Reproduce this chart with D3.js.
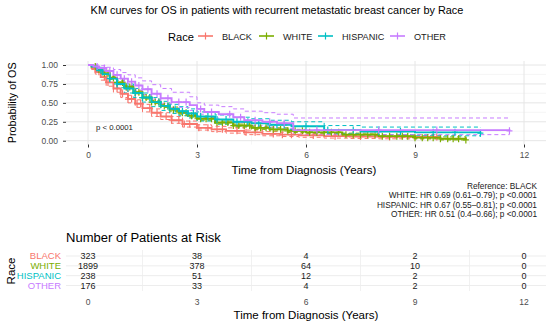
<!DOCTYPE html>
<html>
<meta charset="utf-8"/>
<head>
  <title>KM curves by Race</title>
  <script src="https://d3js.org/d3.v7.min.js" charset="utf-8"></script>
  <style>
    body { margin: 0; background: #fff; }
    text { font-family: "Liberation Sans", Arial, sans-serif; }
  </style>
</head>
<body>
<script>
  // groups and colours (ggplot hue palette)
  var groups = ['BLACK', 'WHITE', 'HISPANIC', 'OTHER'];
  var colors = ['#F8766D', '#7CAE00', '#00BFC4', '#C77CFF'];

  // survival estimates (years, probability)
  var blackTime  = [0, 0.1, 0.2, 0.35, 0.5, 0.7, 0.9, 1.1, 1.3, 1.5, 1.75, 2.0, 2.3, 2.6, 3.0, 3.4, 3.8, 4.3, 4.8, 5.3, 5.8, 6.5, 7.2, 8.0, 9.6];
  var blackSurv  = [1.0, 0.96, 0.91, 0.84, 0.77, 0.69, 0.62, 0.55, 0.49, 0.43, 0.37, 0.32, 0.27, 0.22, 0.17, 0.15, 0.13, 0.11, 0.09, 0.08, 0.07, 0.06, 0.055, 0.05, 0.05];
  var blackLow   = [1.0, 0.94, 0.88, 0.80, 0.72, 0.64, 0.57, 0.50, 0.44, 0.38, 0.32, 0.28, 0.23, 0.18, 0.14, 0.12, 0.10, 0.08, 0.065, 0.055, 0.045, 0.035, 0.03, 0.025, 0.025];
  var blackHigh  = [1.0, 0.98, 0.94, 0.88, 0.82, 0.74, 0.67, 0.60, 0.54, 0.48, 0.42, 0.37, 0.32, 0.26, 0.21, 0.19, 0.17, 0.14, 0.12, 0.11, 0.10, 0.09, 0.085, 0.08, 0.08];
  var blackCens  = [0.3, 0.45, 0.55, 0.8, 0.95, 1.1, 1.2, 1.35, 1.45, 1.7, 1.9, 2.15, 2.3, 2.5, 2.65, 2.8, 3.05, 3.3, 3.55, 3.7, 4.1, 4.35, 4.6, 5.1, 5.35, 5.6, 6.2, 6.8, 7.5, 8.3, 9.6];

  var whiteTime  = [0, 0.1, 0.25, 0.4, 0.6, 0.8, 1.0, 1.25, 1.5, 1.75, 2.0, 2.25, 2.5, 2.75, 3.0, 3.5, 4.0, 4.5, 5.0, 5.5, 6.0, 7.0, 8.0, 9.0, 9.7, 10.4];
  var whiteSurv  = [1.0, 0.98, 0.94, 0.89, 0.83, 0.77, 0.71, 0.64, 0.57, 0.51, 0.46, 0.41, 0.37, 0.33, 0.29, 0.24, 0.20, 0.17, 0.15, 0.13, 0.11, 0.08, 0.06, 0.04, 0.025, 0.01];
  var whiteLow   = [1.0, 0.97, 0.93, 0.87, 0.81, 0.75, 0.69, 0.62, 0.55, 0.49, 0.44, 0.39, 0.35, 0.31, 0.27, 0.22, 0.18, 0.15, 0.13, 0.11, 0.09, 0.065, 0.045, 0.025, 0.01, 0.002];
  var whiteHigh  = [1.0, 0.99, 0.95, 0.91, 0.85, 0.79, 0.73, 0.66, 0.59, 0.53, 0.48, 0.43, 0.39, 0.35, 0.31, 0.26, 0.22, 0.19, 0.17, 0.15, 0.13, 0.10, 0.08, 0.06, 0.05, 0.04];
  var whiteCens  = [0.2, 0.3, 0.45, 0.55, 0.7, 0.8, 0.95, 1.05, 1.15, 1.3, 1.4, 1.5, 1.6, 1.75, 1.85, 1.95, 2.1, 2.2, 2.35, 2.45, 2.6, 2.7, 2.85, 2.95, 3.1, 3.25, 3.4, 3.55, 3.7, 3.85, 4.0, 4.15, 4.3, 4.45, 4.6, 4.75, 4.9, 5.1, 5.3, 5.5, 5.7, 5.9, 6.1, 6.3, 6.5, 6.7, 6.9, 7.1, 7.3, 7.5, 7.7, 7.9, 8.1, 8.3, 8.5, 8.65, 8.8, 9.0, 9.2, 9.35, 9.5, 9.7, 9.9, 10.05, 10.2, 10.4];

  var hispTime   = [0, 0.1, 0.25, 0.4, 0.6, 0.8, 1.0, 1.25, 1.5, 1.75, 2.0, 2.25, 2.5, 2.75, 3.0, 3.5, 4.0, 4.5, 5.0, 5.6, 6.5, 7.5, 9.0, 10.8];
  var hispSurv   = [1.0, 0.98, 0.93, 0.88, 0.82, 0.75, 0.69, 0.63, 0.57, 0.51, 0.46, 0.42, 0.39, 0.36, 0.32, 0.28, 0.25, 0.23, 0.21, 0.19, 0.14, 0.12, 0.11, 0.10];
  var hispLow    = [1.0, 0.96, 0.90, 0.84, 0.77, 0.70, 0.63, 0.57, 0.51, 0.45, 0.40, 0.36, 0.33, 0.30, 0.26, 0.22, 0.19, 0.17, 0.15, 0.13, 0.09, 0.075, 0.065, 0.055];
  var hispHigh   = [1.0, 1.0, 0.96, 0.92, 0.87, 0.80, 0.75, 0.69, 0.63, 0.57, 0.52, 0.48, 0.45, 0.42, 0.38, 0.34, 0.31, 0.29, 0.27, 0.25, 0.20, 0.18, 0.18, 0.17];
  var hispCens   = [0.35, 0.6, 0.8, 1.1, 1.3, 1.5, 1.7, 1.95, 2.2, 2.4, 2.6, 2.75, 2.9, 3.1, 3.3, 3.55, 3.8, 4.1, 4.4, 4.7, 5.0, 5.2, 5.4, 6.0, 6.6, 7.3, 8.0, 8.6, 9.5, 10.1, 10.8];

  var otherTime  = [0, 0.15, 0.3, 0.5, 0.7, 0.9, 1.1, 1.3, 1.5, 1.75, 2.0, 2.3, 2.8, 3.0, 3.2, 3.6, 4.0, 4.3, 4.8, 5.2, 5.65, 11.6];
  var otherSurv  = [1.0, 0.98, 0.96, 0.92, 0.87, 0.82, 0.78, 0.73, 0.68, 0.62, 0.56, 0.51, 0.47, 0.42, 0.38, 0.35, 0.31, 0.27, 0.25, 0.23, 0.14, 0.13];
  var otherLow   = [1.0, 0.96, 0.93, 0.88, 0.82, 0.77, 0.72, 0.67, 0.61, 0.55, 0.49, 0.44, 0.40, 0.35, 0.30, 0.28, 0.24, 0.20, 0.18, 0.16, 0.08, 0.075];
  var otherHigh  = [1.0, 1.0, 0.99, 0.97, 0.94, 0.90, 0.87, 0.83, 0.79, 0.74, 0.69, 0.64, 0.58, 0.50, 0.47, 0.45, 0.42, 0.39, 0.37, 0.35, 0.30, 0.30];
  var otherCens  = [0.25, 0.45, 0.6, 0.8, 1.0, 1.2, 1.4, 1.65, 1.9, 2.2, 2.5, 2.7, 3.1, 3.4, 3.9, 4.2, 4.6, 5.0, 5.4, 6.3, 8.0, 9.6, 11.6];

  // number at risk
  var riskTimes = [0, 3, 6, 9, 12];
  var riskBlack = [323, 38, 4, 2, 0];
  var riskWhite = [1899, 378, 64, 10, 0];
  var riskHisp  = [238, 51, 12, 2, 0];
  var riskOther = [176, 33, 4, 2, 0];

  var yTicks = [0, 0.25, 0.5, 0.75, 1];
  var xTicks = [0, 3, 6, 9, 12];
  var hrLines = ['Reference: BLACK',
                 'WHITE: HR 0.69 (0.61\u20130.79); p <0.0001',
                 'HISPANIC: HR 0.67 (0.55\u20130.81); p <0.0001',
                 'OTHER: HR 0.51 (0.4\u20130.66); p <0.0001'];

  var series = [
    {time: blackTime, surv: blackSurv, low: blackLow, high: blackHigh, cens: blackCens},
    {time: whiteTime, surv: whiteSurv, low: whiteLow, high: whiteHigh, cens: whiteCens},
    {time: hispTime,  surv: hispSurv,  low: hispLow,  high: hispHigh,  cens: hispCens},
    {time: otherTime, surv: otherSurv, low: otherLow, high: otherHigh, cens: otherCens}
  ];
  var riskRows = [riskBlack, riskWhite, riskHisp, riskOther];

  var W = 550, H = 322;
  var panel = {left: 66, right: 546, top: 61, bottom: 144.5};

  var svg = d3.select('body').append('svg')
    .attr('width', W).attr('height', H);
  svg.append('rect').attr('width', W).attr('height', H).attr('fill', '#fff');

  // scale a text's font so it spans about the width seen in the picture
  function fit(t, width){
    var fs = +t.attr('font-size');
    var len = t.node().getComputedTextLength();
    if (len > 0) t.attr('font-size', (fs * width / len).toFixed(2));
    return t;
  }

  var x = d3.scaleLinear().domain([0, 12]).range([88, 524]);
  var y = d3.scaleLinear().domain([0, 1]).range([140.7, 65]);

  // title
  fit(svg.append('text').attr('x', 277).attr('y', 14)
    .attr('text-anchor', 'middle').attr('font-size', 11).attr('fill', '#000')
    .text('KM curves for OS in patients with recurrent metastatic breast cancer by Race'), 373);

  // legend
  var lg = svg.append('g');
  fit(lg.append('text').attr('x', 168).attr('y', 40.5).attr('font-size', 11).text('Race'), 26);
  var keyX = [198, 259, 318, 390];
  var legFs = 9;
  groups.forEach(function(g, i){
    var k = lg.append('g').attr('transform', 'translate(' + keyX[i] + ',36)');
    k.append('line').attr('x1', 0).attr('x2', 15).attr('stroke', colors[i]).attr('stroke-width', 1.6);
    k.append('line').attr('x1', 7.5).attr('x2', 7.5).attr('y1', -3.5).attr('y2', 3.5)
      .attr('stroke', colors[i]).attr('stroke-width', 1.2);
    var t = k.append('text').attr('x', 24).attr('y', 3.5).attr('font-size', legFs).attr('fill', '#1a1a1a').text(g);
    if (i == 0) { fit(t, 30); legFs = +t.attr('font-size'); }
  });

  // grid
  var grid = svg.append('g');
  [0.125, 0.375, 0.625, 0.875].forEach(function(v){
    grid.append('line').attr('x1', panel.left).attr('x2', panel.right)
      .attr('y1', y(v)).attr('y2', y(v)).attr('stroke', '#f0f0f0').attr('stroke-width', 0.6);
  });
  [1.5, 4.5, 7.5, 10.5].forEach(function(v){
    grid.append('line').attr('y1', panel.top).attr('y2', panel.bottom)
      .attr('x1', x(v)).attr('x2', x(v)).attr('stroke', '#f0f0f0').attr('stroke-width', 0.6);
  });
  yTicks.forEach(function(v){
    grid.append('line').attr('x1', panel.left).attr('x2', panel.right)
      .attr('y1', y(v)).attr('y2', y(v)).attr('stroke', '#e6e6e6').attr('stroke-width', 1);
  });
  xTicks.forEach(function(v){
    grid.append('line').attr('y1', panel.top).attr('y2', panel.bottom)
      .attr('x1', x(v)).attr('x2', x(v)).attr('stroke', '#e6e6e6').attr('stroke-width', 1);
  });

  // axes
  var yAxis = svg.append('g').attr('transform', 'translate(' + panel.left + ',0)')
    .call(d3.axisLeft(y).tickValues(yTicks).tickFormat(d3.format('.2f')).tickSize(3).tickPadding(5));
  var xAxis = svg.append('g').attr('transform', 'translate(0,' + panel.bottom + ')')
    .call(d3.axisBottom(x).tickValues(xTicks).tickSize(3).tickPadding(4));
  [yAxis, xAxis].forEach(function(a){
    a.select('.domain').remove();
    a.selectAll('.tick line').attr('stroke', '#333');
    a.selectAll('text').attr('font-size', 8.5).attr('fill', '#4d4d4d')
      .style('font-family', '"Liberation Sans", Arial, sans-serif');
  });

  fit(svg.append('text').attr('transform', 'translate(16,' + ((panel.top + panel.bottom) / 2) + ') rotate(-90)')
    .attr('text-anchor', 'middle').attr('font-size', 11).text('Probability of OS'), 81);
  var xTitle = fit(svg.append('text').attr('x', 304).attr('y', 174).attr('text-anchor', 'middle')
    .attr('font-size', 11).text('Time from Diagnosis (Years)'), 145);

  // curves
  var step = d3.line().curve(d3.curveStepAfter)
    .x(function(d){ return x(d[0]); }).y(function(d){ return y(d[1]); });
  function pairs(t, s){ return t.map(function(v, i){ return [v, s[i]]; }); }
  function survAt(s, t){
    var v = s.surv[0];
    for (var i = 0; i < s.time.length; i++) { if (s.time[i] <= t) v = s.surv[i]; }
    return v;
  }

  var curves = svg.append('g');
  series.forEach(function(s, i){
    curves.append('path').attr('d', step(pairs(s.time, s.low))).attr('fill', 'none')
      .attr('stroke', colors[i]).attr('stroke-width', 1).attr('stroke-dasharray', '4,3');
    curves.append('path').attr('d', step(pairs(s.time, s.high))).attr('fill', 'none')
      .attr('stroke', colors[i]).attr('stroke-width', 1).attr('stroke-dasharray', '4,3');
  });
  series.forEach(function(s, i){
    curves.append('path').attr('d', step(pairs(s.time, s.surv))).attr('fill', 'none')
      .attr('stroke', colors[i]).attr('stroke-width', 1.9);
    s.cens.forEach(function(t){
      curves.append('path')
        .attr('transform', 'translate(' + x(t) + ',' + y(survAt(s, t)) + ')')
        .attr('d', 'M-3,0H3M0,-3.5V3.5').attr('stroke', colors[i]).attr('stroke-width', 1.2);
    });
  });

  fit(svg.append('text').attr('x', 96).attr('y', 129.5).attr('font-size', 8.5).attr('fill', '#1a1a1a')
    .text('p < 0.0001'), 37);

  // hazard ratio annotation
  hrLines.forEach(function(l, i){
    svg.append('text').attr('x', 537).attr('y', 188.5 + i * 9.6).attr('text-anchor', 'end')
      .attr('font-size', 8.3).attr('fill', '#1a1a1a').text(l);
  });

  // risk table
  fit(svg.append('text').attr('x', 66).attr('y', 241.5).attr('font-size', 13).text('Number of Patients at Risk'), 155);
  var rowY = d3.scalePoint().domain(groups).range([256, 285.5]);
  var rt = svg.append('g');
  [1.5, 4.5, 7.5, 10.5].forEach(function(v){
    rt.append('line').attr('x1', x(v)).attr('x2', x(v)).attr('y1', 250).attr('y2', 291)
      .attr('stroke', '#ededed').attr('stroke-width', 0.8);
  });
  groups.forEach(function(g){
    rt.append('line').attr('x1', panel.left).attr('x2', panel.right)
      .attr('y1', rowY(g)).attr('y2', rowY(g)).attr('stroke', '#ededed').attr('stroke-width', 1);
  });
  groups.forEach(function(g, i){
    rt.append('text').attr('x', 61).attr('y', rowY(g) + 3.3).attr('text-anchor', 'end')
      .attr('font-size', 9.5).attr('fill', colors[i]).text(g);
    riskRows[i].forEach(function(n, j){
      rt.append('text').attr('x', x(riskTimes[j])).attr('y', rowY(g) + 3.3).attr('text-anchor', 'middle')
        .attr('font-size', 9).attr('fill', '#1a1a1a').text(n);
    });
  });
  xTicks.forEach(function(v){
    rt.append('text').attr('x', x(v)).attr('y', 305).attr('text-anchor', 'middle')
      .attr('font-size', 8.5).attr('fill', '#4d4d4d').text(v);
  });
  svg.append('text').attr('transform', 'translate(15,271) rotate(-90)')
    .attr('text-anchor', 'middle').attr('font-size', +xTitle.attr('font-size')).text('Race');
  svg.append('text').attr('x', 306).attr('y', 319).attr('text-anchor', 'middle')
    .attr('font-size', +xTitle.attr('font-size')).text('Time from Diagnosis (Years)');
</script>
</body>
</html>
